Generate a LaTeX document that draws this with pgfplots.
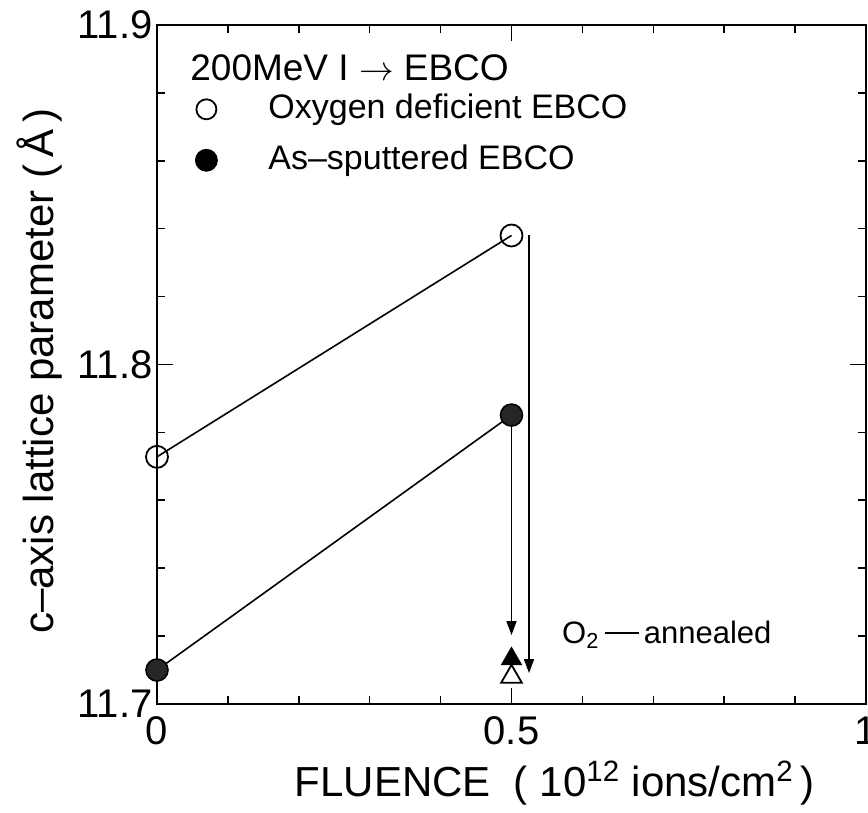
\documentclass[border=0pt]{standalone}
\usepackage{pgfplots}
\pgfplotsset{compat=1.18}
\usepackage{fontspec}
\setmainfont{Liberation Sans}
\usetikzlibrary{arrows.meta}
\begin{document}
\begin{tikzpicture}
\begin{axis}[
  name=ax,
  scale only axis, width=354.5pt, height=339.5pt,
  xmin=0, xmax=1, ymin=11.7, ymax=11.9,
  xtick={0,0.5,1}, ytick={11.7,11.8,11.9},
  minor x tick num=4, minor y tick num=4,
  tick align=inside,
  major tick length=8pt, minor tick length=4pt,
  axis line style={line width=1pt},
  every tick/.style={black, line width=0.8pt},
  /pgf/number format/assume math mode=true,
  ticklabel style={font=\fontsize{20}{22}\selectfont},
  xticklabel style={yshift=-3pt},
  yticklabel style={inner xsep=2pt},
  xlabel={FLUENCE\ \ (\ 10\textsuperscript{12} ions/cm\textsuperscript{2}\,)},
  ylabel={c–axis lattice parameter (\,Å\,)},
  xlabel style={font=\fontsize{21}{23}\selectfont, at={(axis description cs:0.561,0)}, anchor=base, yshift=-46.5pt},
  ylabel style={font=\fontsize{21}{23}\selectfont, at={(axis description cs:-0.165,0.49)}, anchor=center},
  clip=false,
  legend image code/.code={\draw[#1] plot coordinates {(0pt,0pt)};},
  legend cell align=left,
  legend style={draw=none, fill=none, inner sep=0pt,
    at={(axis description cs:0.0536,0.900)}, anchor=north west,
    font=\fontsize{17}{19}\selectfont, row sep=9.5pt, column sep=25.5pt,
    nodes={inner sep=0pt, text height=12.5pt, text depth=3.5pt}},
]
% O2-annealing arrows
\addplot[black, line width=0.8pt, -{Triangle[length=7pt,width=5pt]}, forget plot] coordinates {(0.5,11.7851) (0.5,11.7203)};
\addplot[black, line width=0.8pt, -{Triangle[length=7pt,width=5pt]}, forget plot] coordinates {(0.5247,11.838) (0.5247,11.7091)};
% oxygen deficient
\addplot[black, line width=0.8pt, mark=o, mark size=5.5pt, mark options={fill=white, line width=0.9pt}, forget plot] coordinates {(0,11.7728) (0.5,11.838)};
% as-sputtered
\addplot[black, line width=0.8pt, mark=*, mark size=5.5pt, mark options={fill=black!85}, forget plot] coordinates {(0,11.7100) (0.5,11.7851)};
% annealed
\addplot[only marks, mark=triangle*, mark size=5.8pt, black, mark options={fill=black}, forget plot] coordinates {(0.5,11.7133)};
\addplot[only marks, mark=triangle, mark size=6pt, black, mark options={fill=white, line width=0.9pt}, forget plot] coordinates {(0.5,11.7080)};
\addlegendimage{black, mark=o, mark size=5pt, mark options={fill=white, line width=0.9pt}}
\addlegendentry{Oxygen deficient EBCO}
\addlegendimage{black, mark=*, mark size=5.5pt, mark options={fill=black}}
\addlegendentry{As–sputtered EBCO}
\node[anchor=west, inner sep=0pt, font=\fontsize{18.5}{20}\selectfont] at (axis description cs:0.0465,0.937) {200MeV I $\rightarrow$ EBCO};
\node[anchor=west, inner sep=0pt, font=\fontsize{15.5}{17}\selectfont] at (axis cs:0.571,11.7203) {O\textsubscript{2}\,\rule[0.3em]{1.1em}{1pt}\,annealed};
\end{axis}
\pgfresetboundingbox
\path[use as bounding box] ([xshift=-78.5pt,yshift=-54.5pt]ax.south west) rectangle ([xshift=1pt,yshift=12.5pt]ax.north east);
\end{tikzpicture}
\end{document}
